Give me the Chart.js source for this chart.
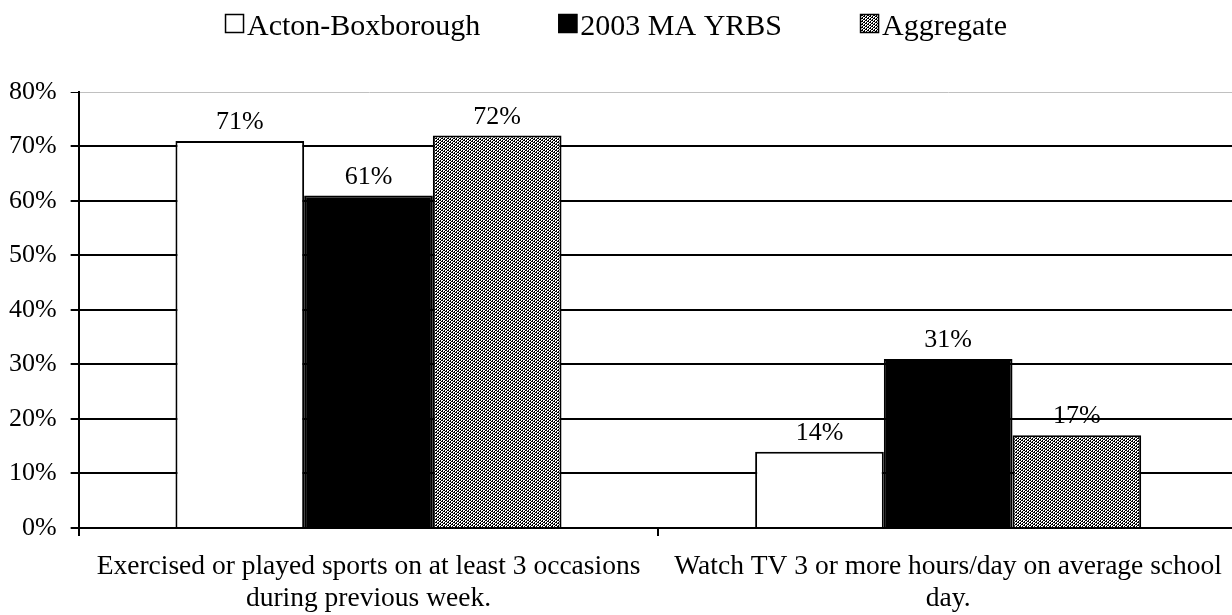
<!DOCTYPE html>
<html>
<head>
<meta charset="utf-8">
<script src="https://cdn.jsdelivr.net/npm/chart.js@4.4.1/dist/chart.umd.min.js"></script>
<style>
  html, body { margin: 0; padding: 0; background: #fff; overflow: hidden; }
  #wrap { width: 1232px; height: 615px; position: relative; overflow: hidden; }
  #c { position: absolute; left: 0; top: 0; }
</style>
</head>
<body>
<div id="wrap"><canvas id="c" width="1238" height="615"></canvas></div>
<script>
const categories = [
  ["Exercised or played sports on at least 3 occasions", "during previous week."],
  ["Watch TV 3 or more hours/day on average school", "day."]
];
const seriesNames = ["Acton-Boxborough", "2003 MA YRBS", "Aggregate"];
const actonValues = [71, 14];
const maValues = [61, 31];
const aggregateValues = [72, 17];
const yTicks = [0, 10, 20, 30, 40, 50, 60, 70, 80];

const FONT = "'Liberation Serif', 'Times New Roman', serif";
const VISIBLE_WIDTH = 1232;

function makeHatch() {
  const p = document.createElement('canvas');
  p.width = 6; p.height = 6;
  const g = p.getContext('2d');
  g.fillStyle = '#fff';
  g.fillRect(0, 0, 6, 6);
  g.fillStyle = '#000';
  for (let y = 0; y < 6; y++) {
    for (let x = 0; x < 6; x++) {
      const d = (x + y) % 3;
      if (d === 0 || (d === 1 && x % 2 === 0)) g.fillRect(x, y, 1, 1);
    }
  }
  return g.createPattern(p, 'repeat');
}
const hatch = makeHatch();

const valueLabels = {
  id: 'valueLabels',
  afterDatasetsDraw(chart) {
    const ctx = chart.ctx;
    ctx.save();
    ctx.font = "26px " + FONT;
    ctx.fillStyle = '#000';
    ctx.textAlign = 'center';
    ctx.textBaseline = 'alphabetic';
    chart.data.datasets.forEach((ds, di) => {
      const meta = chart.getDatasetMeta(di);
      meta.data.forEach((el, i) => {
        ctx.fillText(ds.data[i] + '%', el.x, el.y - 12);
      });
    });
    ctx.restore();
  }
};

const topLegend = {
  id: 'topLegend',
  afterDraw(chart) {
    const ctx = chart.ctx;
    ctx.save();
    ctx.font = "30px " + FONT;
    const box = 19, gapText = 3, gapItem = 78;
    const items = chart.data.datasets.map(ds => ({ text: ds.label, fill: ds.backgroundColor, w: ctx.measureText(ds.label).width }));
    let total = 0;
    items.forEach((it, i) => { total += box + gapText + it.w + (i < items.length - 1 ? gapItem : 0); });
    let x = (VISIBLE_WIDTH - total) / 2;
    const baseline = 35, boxTop = 14;
    items.forEach(it => {
      ctx.fillStyle = it.fill;
      ctx.fillRect(x, boxTop, box, box);
      ctx.strokeStyle = '#000';
      ctx.lineWidth = 1.5;
      ctx.strokeRect(x + 0.5, boxTop + 0.5, box - 1, box - 1);
      ctx.fillStyle = '#000';
      ctx.textAlign = 'left';
      ctx.textBaseline = 'alphabetic';
      ctx.fillText(it.text, x + box + gapText, baseline);
      x += box + gapText + it.w + gapItem;
    });
    ctx.restore();
  }
};

new Chart(document.getElementById('c'), {
  type: 'bar',
  data: {
    labels: categories,
    datasets: [
      { label: seriesNames[0], data: actonValues, backgroundColor: '#ffffff', borderColor: '#000', borderWidth: 2 },
      { label: seriesNames[1], data: maValues, backgroundColor: '#000000', borderColor: '#000', borderWidth: 2 },
      { label: seriesNames[2], data: aggregateValues, backgroundColor: hatch, borderColor: '#000', borderWidth: 2 }
    ]
  },
  options: {
    responsive: false,
    animation: false,
    devicePixelRatio: 1,
    layout: { padding: { top: 92, left: -5, right: 0, bottom: -15 } },
    datasets: { bar: { barPercentage: 1.0, categoryPercentage: 0.666 } },
    plugins: {
      legend: { display: false },
      tooltip: { enabled: false },
      title: { display: false }
    },
    scales: {
      x: {
        grid: {
          offset: true,
          drawOnChartArea: false,
          drawTicks: true,
          tickLength: 8,
          color: '#000',
          lineWidth: 2
        },
        border: { display: true, color: '#000', width: 2 },
        ticks: {
          font: { family: FONT, size: 27.5, lineHeight: 1.164 },
          color: '#000',
          padding: 15,
          maxRotation: 0,
          autoSkip: false
        }
      },
      y: {
        min: 0,
        max: 80,
        afterBuildTicks(scale) { scale.ticks = yTicks.map(v => ({ value: v })); },
        grid: {
          color: ctx => (ctx.tick && ctx.tick.value === 80) ? '#c0c0c0' : '#000',
          tickColor: '#000',
          lineWidth: ctx => (ctx.tick && ctx.tick.value === 80) ? 1 : 2,
          tickLength: 8,
          drawTicks: true
        },
        border: { display: true, color: '#000', width: 2 },
        ticks: {
          font: { family: FONT, size: 26 },
          color: '#000',
          padding: 14,
          callback: v => v + '%'
        }
      }
    }
  },
  plugins: [valueLabels, topLegend]
});
</script>
</body>
</html>
